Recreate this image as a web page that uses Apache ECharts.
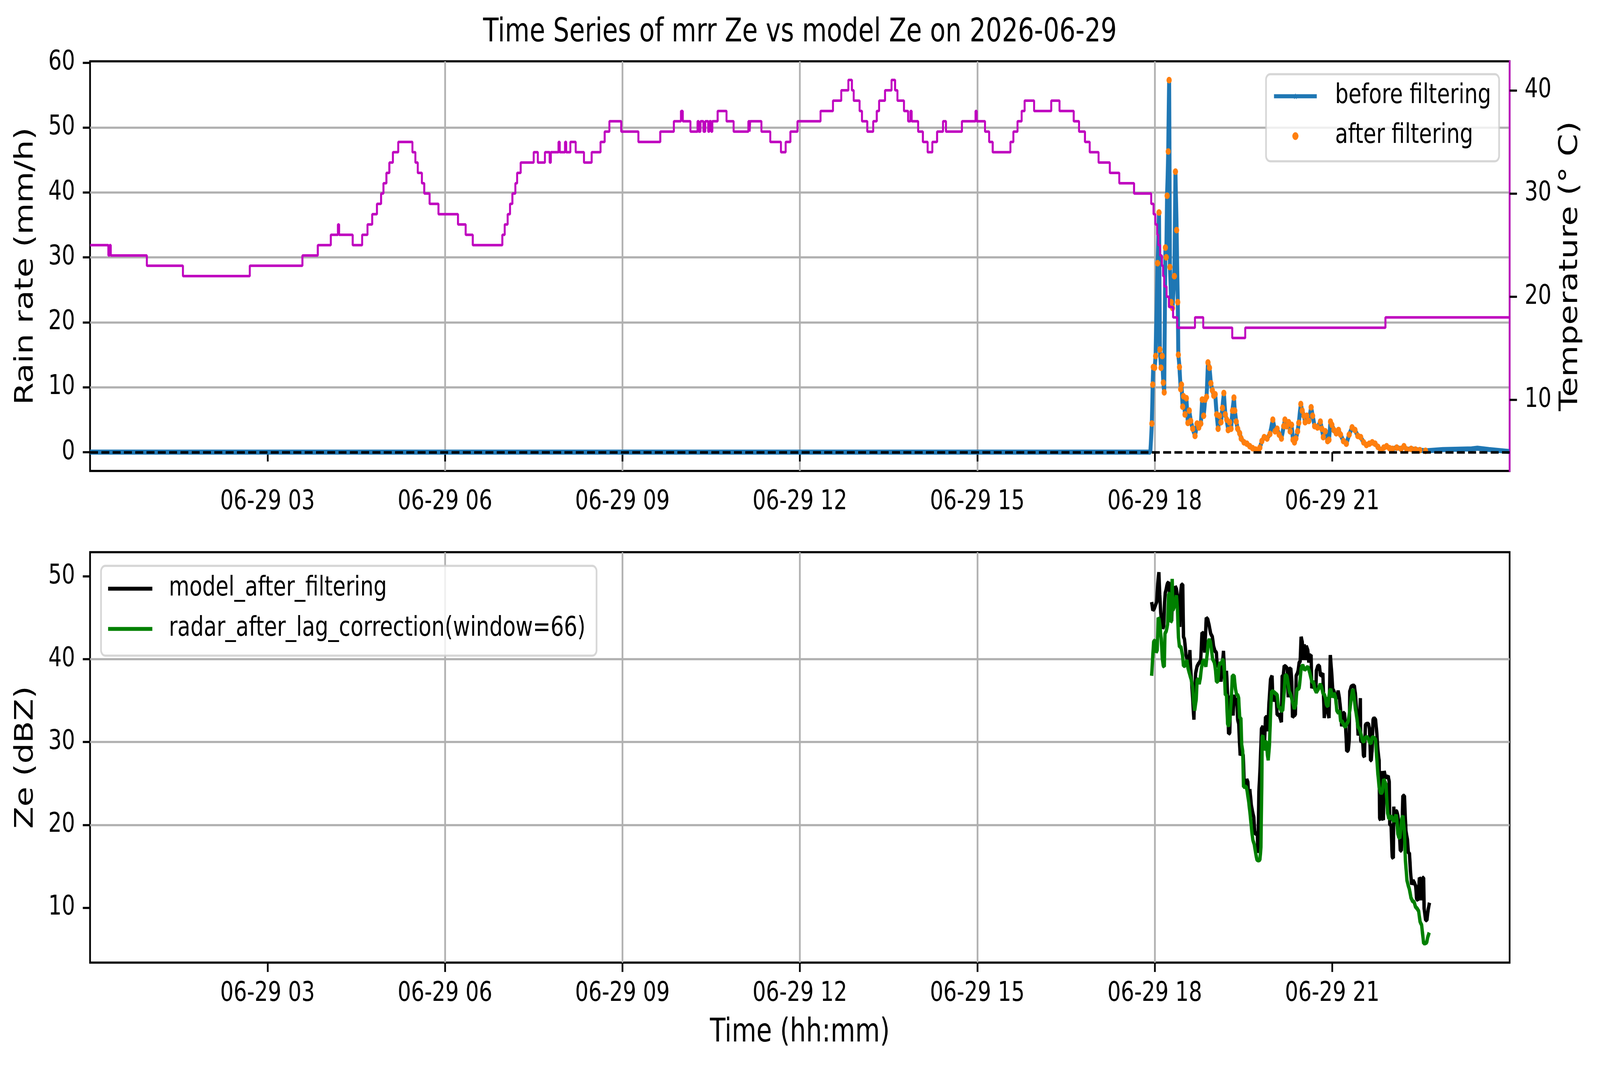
<!DOCTYPE html>
<html><head><meta charset="utf-8">
<script src="https://cdn.jsdelivr.net/npm/echarts@6/dist/echarts.min.js"></script>
<style>html,body{margin:0;padding:0;background:#fff;overflow:hidden}#c{width:5241px;height:2740px;transform-origin:0 0}</style>
</head><body><div id="c"></div>
<script>
// ---------- tick labels ----------
const hourTicks = [3, 6, 9, 12, 15, 18, 21];
const rainTicks = [0, 10, 20, 30, 40, 50, 60];
const tempTicks = [10, 20, 30, 40];
const zeTicks = [10, 20, 30, 40, 50];

// ---------- temperature (hour of day, °C), value held until next change ----------
const tempTime = [0,0.31,0.33,0.35,0.96,1.57,2.70,3.59,3.85,4.07,4.19,4.21,4.44,4.60,4.69,4.77,4.85,4.92,4.96,5.01,5.06,5.12,5.21,5.45,5.50,5.54,5.61,5.65,5.74,5.89,6.22,6.35,6.47,6.97,7.01,7.06,7.10,7.14,7.19,7.22,7.28,7.50,7.57,7.69,7.77,7.79,7.92,7.94,8.03,8.05,8.12,8.21,8.35,8.48,8.63,8.70,8.78,8.98,9.27,9.64,9.87,9.99,10.02,10.15,10.27,10.29,10.32,10.37,10.40,10.45,10.47,10.50,10.52,10.61,10.76,10.88,11.13,11.15,11.16,11.35,11.50,11.68,11.76,11.84,11.96,12.35,12.56,12.70,12.82,12.88,12.91,13.01,13.05,13.14,13.24,13.30,13.34,13.44,13.55,13.61,13.65,13.76,13.83,13.87,13.89,14.00,14.08,14.16,14.24,14.32,14.42,14.47,14.74,14.97,14.99,15.13,15.20,15.26,15.56,15.61,15.68,15.75,15.80,15.96,16.25,16.39,16.63,16.72,16.82,16.90,17.05,17.24,17.40,17.65,17.94,17.98,18.01,18.04,18.06,18.09,18.12,18.14,18.16,18.20,18.24,18.31,18.38,18.68,18.82,19.31,19.53,21.90,24];
const tempVal = [25,24,25,24,23,22,23,24,25,26,27,26,25,26,27,28,29,30,31,32,33,34,35,34,33,32,31,30,29,28,27,26,25,26,27,28,29,30,31,32,33,34,33,34,33,34,35,34,35,34,35,34,33,34,35,36,37,36,35,36,37,38,37,36,37,36,37,36,37,36,37,36,37,38,37,36,37,36,37,36,35,34,35,36,37,38,39,40,41,40,39,38,37,36,37,38,39,40,41,40,39,38,37,38,37,36,35,34,35,36,37,36,37,38,37,36,35,34,35,36,37,38,39,38,39,38,37,36,35,34,33,32,31,30,29,28,27,26,25,24,23,22,21,20,19,18,17,18,17,16,17,18,18];

// ---------- rain rate (mm/h) ----------
const dryTime = [0, 17.926];
const dryVal = [0, 0];
const rainTime = [17.951,17.965,17.975,17.999,18.014,18.048,18.072,18.087,18.106,18.126,18.145,18.160,18.180,18.194,18.209,18.228,18.243,18.257,18.277,18.301,18.331,18.350,18.370,18.389,18.399,18.418,18.438,18.452,18.472,18.486,18.511,18.535,18.560,18.584,18.608,18.642,18.681,18.715,18.745,18.779,18.803,18.827,18.852,18.876,18.900,18.925,18.949,18.974,18.998,19.022,19.047,19.071,19.095,19.120,19.144,19.168,19.193,19.217,19.241,19.266,19.290,19.314,19.339,19.353,19.378,19.402,19.436,19.461,19.509,19.558,19.607,19.655,19.704,19.753,19.777,19.811,19.850,19.899,19.948,19.996,20.035,20.069,20.103,20.142,20.181,20.201,20.230,20.264,20.289,20.313,20.337,20.362,20.386,20.415,20.435,20.469,20.493,20.522,20.542,20.571,20.605,20.644,20.669,20.703,20.751,20.800,20.825,20.849,20.883,20.922,20.946,20.971,20.995,21.029,21.068,21.107,21.141,21.190,21.239,21.287,21.336,21.385,21.433,21.482,21.531,21.579,21.628,21.677,21.725,21.774,21.823,21.872,21.920,21.969,22.018,22.091,22.164,22.213,22.261,22.335,22.408,22.481,22.578];
const rainVal = [4.4,10.4,13.1,13.0,14.8,29.1,36.9,15.8,13.0,14.8,10.7,9.2,31.5,30.0,39.5,46.3,57.3,28.5,23.1,22.2,27.1,43.2,34.2,23.1,15.0,13.1,9.7,10.4,7.0,8.6,5.8,8.3,4.5,6.4,4.8,3.6,2.5,4.4,3.8,4.4,8.1,5.6,8.1,8.5,13.8,13.0,10.6,9.5,8.7,8.9,5.8,3.6,5.6,4.6,6.8,9.1,5.8,5.0,3.4,4.6,3.6,6.4,8.4,6.4,4.7,3.6,2.9,2.1,1.5,1.3,0.9,0.6,0.4,0.3,0.7,1.7,2.3,2.1,2.8,5.0,3.2,3.6,2.7,2.1,4.0,5.0,4.0,4.6,3.2,4.2,1.9,1.5,2.1,3.2,4.5,7.4,6.4,5.6,4.6,5.6,4.8,6.9,5.6,4.0,3.8,4.7,3.6,2.3,3.2,1.7,1.9,4.7,4.2,3.4,2.9,3.4,2.7,1.7,1.3,2.7,3.8,3.4,2.5,2.3,1.5,1.1,1.3,1.5,1.3,0.8,0.3,0.7,0.9,0.6,0.5,0.7,0.5,0.9,0.4,0.5,0.4,0.3,0.2];
const tailTime = [22.870, 23.357, 23.455, 23.650, 23.991];
const tailVal = [0.4, 0.5, 0.6, 0.4, 0.1];
const zeroRef = 0;

// ---------- Ze (dBZ) ----------
const modelTime = [17.947,17.968,17.990,18.016,18.033,18.050,18.070,18.084,18.101,18.118,18.135,18.152,18.166,18.178,18.195,18.212,18.235,18.252,18.269,18.286,18.298,18.315,18.332,18.346,18.366,18.392,18.409,18.423,18.435,18.452,18.474,18.486,18.503,18.529,18.546,18.572,18.594,18.606,18.623,18.640,18.662,18.674,18.691,18.714,18.734,18.755,18.777,18.799,18.823,18.845,18.871,18.897,18.922,18.945,18.974,18.994,19.017,19.042,19.056,19.076,19.094,19.119,19.136,19.162,19.179,19.196,19.213,19.231,19.248,19.268,19.282,19.304,19.325,19.342,19.359,19.385,19.402,19.419,19.444,19.470,19.496,19.513,19.530,19.556,19.573,19.590,19.607,19.633,19.650,19.675,19.693,19.718,19.735,19.744,19.761,19.782,19.804,19.829,19.855,19.872,19.894,19.911,19.932,19.958,19.983,20.000,20.026,20.052,20.069,20.103,20.120,20.141,20.154,20.172,20.189,20.214,20.240,20.257,20.278,20.300,20.317,20.329,20.351,20.377,20.391,20.411,20.424,20.441,20.458,20.475,20.493,20.510,20.527,20.544,20.561,20.587,20.604,20.621,20.643,20.655,20.677,20.701,20.724,20.732,20.758,20.783,20.804,20.826,20.843,20.852,20.866,20.883,20.900,20.920,20.946,20.958,20.968,20.989,21.009,21.032,21.057,21.083,21.100,21.122,21.143,21.160,21.186,21.206,21.225,21.245,21.271,21.288,21.297,21.322,21.348,21.374,21.391,21.417,21.439,21.459,21.476,21.482,21.494,21.511,21.528,21.545,21.562,21.588,21.613,21.631,21.648,21.660,21.673,21.690,21.707,21.733,21.755,21.773,21.793,21.802,21.819,21.836,21.853,21.865,21.879,21.896,21.921,21.947,21.964,21.973,21.995,22.015,22.033,22.041,22.058,22.075,22.092,22.110,22.127,22.152,22.169,22.195,22.221,22.246,22.272,22.289,22.306,22.323,22.344,22.366,22.389,22.412,22.426,22.452,22.474,22.495,22.508,22.529,22.546,22.554,22.580,22.601,22.623,22.645];
const modelZe = [46.9,45.9,46.1,46.6,46.9,49.1,50.5,47.8,45.6,44.5,43.7,44.0,46.9,48.0,48.5,49.1,49.3,47.8,45.0,44.6,47.2,46.2,46.4,48.8,48.5,46.9,45.6,43.9,47.8,49.0,49.0,42.7,42.4,40.5,40.0,39.1,41.1,38.9,37.3,35.3,32.7,35.7,38.3,39.1,39.4,39.6,39.9,43.2,43.1,40.8,45.0,44.8,44.0,43.1,42.7,41.6,41.0,40.8,39.2,39.2,38.9,37.3,38.6,41.0,38.6,36.1,38.6,35.7,31.0,31.1,35.4,35.7,33.2,35.7,34.8,35.3,32.7,32.2,28.4,28.9,28.4,24.9,24.6,25.5,25.2,23.0,24.3,22.4,21.7,20.9,18.9,19.0,18.9,16.6,24.0,27.1,31.6,31.9,29.7,33.0,33.0,31.3,34.8,37.6,38.0,34.9,35.7,35.6,33.3,33.3,32.9,32.4,38.0,38.0,39.2,39.1,38.9,35.4,38.8,38.9,37.3,33.0,33.2,33.3,38.0,38.3,38.6,39.6,39.7,42.7,42.1,39.9,41.8,39.9,41.6,41.1,39.6,40.4,40.5,36.5,37.0,37.3,36.1,38.6,39.2,39.2,38.0,38.1,38.3,35.9,32.9,34.3,35.4,33.8,32.9,37.3,40.5,38.6,36.4,36.1,35.3,35.4,36.2,35.3,33.8,31.9,33.5,33.5,32.2,28.9,29.0,30.2,36.1,36.7,36.8,36.8,35.9,33.5,30.8,31.6,35.3,30.2,30.0,30.6,28.4,28.2,32.1,32.2,32.2,31.6,27.8,27.8,28.9,32.7,32.9,32.7,31.0,29.0,27.8,20.8,20.6,26.5,20.8,20.6,26.5,25.9,25.7,25.9,25.2,20.0,20.0,16.1,16.0,22.2,20.1,21.7,21.6,21.1,20.1,16.9,16.9,23.5,23.5,19.3,18.2,16.6,16.6,14.4,12.8,13.3,13.0,12.6,11.1,10.9,13.6,13.4,10.9,13.6,13.6,9.9,8.5,8.5,9.8,10.6];
const radarTime = [17.947,17.968,17.981,18.007,18.024,18.041,18.050,18.058,18.075,18.093,18.110,18.127,18.144,18.161,18.173,18.195,18.217,18.235,18.255,18.269,18.281,18.295,18.306,18.324,18.346,18.366,18.383,18.401,18.418,18.443,18.469,18.486,18.512,18.543,18.563,18.594,18.614,18.640,18.657,18.674,18.700,18.717,18.734,18.751,18.768,18.789,18.811,18.837,18.863,18.885,18.905,18.922,18.940,18.957,18.979,19.008,19.029,19.042,19.068,19.085,19.102,19.128,19.145,19.159,19.176,19.193,19.213,19.231,19.251,19.273,19.295,19.312,19.342,19.364,19.385,19.402,19.419,19.436,19.456,19.470,19.487,19.501,19.521,19.547,19.564,19.590,19.615,19.641,19.658,19.684,19.706,19.727,19.753,19.778,19.795,19.809,19.816,19.829,19.846,19.872,19.889,19.906,19.918,19.940,19.958,19.975,20.000,20.035,20.069,20.090,20.117,20.137,20.163,20.189,20.206,20.232,20.244,20.274,20.300,20.326,20.360,20.386,20.403,20.424,20.441,20.458,20.475,20.501,20.535,20.561,20.587,20.612,20.633,20.655,20.684,20.706,20.732,20.766,20.797,20.818,20.843,20.869,20.886,20.903,20.929,20.955,20.975,21.006,21.032,21.057,21.078,21.105,21.126,21.143,21.168,21.194,21.220,21.245,21.271,21.297,21.322,21.348,21.365,21.391,21.417,21.437,21.459,21.485,21.511,21.536,21.554,21.579,21.605,21.631,21.656,21.677,21.707,21.733,21.750,21.772,21.793,21.810,21.827,21.848,21.870,21.892,21.909,21.921,21.938,21.956,21.981,21.998,22.015,22.041,22.058,22.080,22.092,22.110,22.127,22.144,22.161,22.178,22.195,22.221,22.238,22.264,22.281,22.306,22.332,22.358,22.384,22.409,22.435,22.461,22.486,22.512,22.529,22.546,22.572,22.597,22.614,22.640];
const radarZe = [38.0,40.5,42.1,42.3,40.8,41.1,43.1,45.0,44.8,43.7,42.4,40.2,39.2,39.1,43.1,43.4,44.2,47.8,48.0,44.5,44.6,49.7,45.9,46.2,47.0,47.7,46.2,42.6,41.5,41.5,40.5,39.2,39.2,39.9,38.9,38.1,37.6,36.7,34.8,33.8,35.1,37.5,37.6,37.0,37.6,38.9,39.7,39.9,39.1,40.5,42.1,42.4,42.1,41.3,40.0,39.6,38.6,37.3,37.3,39.1,39.6,39.4,39.9,39.9,38.6,35.7,35.7,32.2,31.9,32.9,35.4,38.0,38.0,36.4,35.7,35.7,35.3,32.9,32.9,29.7,28.9,24.6,24.6,24.6,24.0,22.7,21.1,19.2,18.2,17.6,16.6,15.8,15.7,15.8,17.3,24.6,30.6,30.8,29.0,30.0,30.0,28.4,27.8,29.7,33.5,36.1,36.1,35.9,35.7,34.3,34.1,33.8,33.8,36.1,38.1,38.0,37.6,36.1,35.7,34.9,34.0,34.6,36.4,36.4,36.5,37.6,38.9,39.3,38.7,38.9,39.1,38.6,38.0,37.3,37.2,36.4,36.0,36.4,37.0,36.7,35.9,35.7,35.3,34.5,34.3,36.1,36.4,35.4,35.9,35.4,33.8,33.5,33.8,32.5,32.5,32.1,31.8,32.2,32.5,33.8,35.3,36.4,35.7,34.1,32.9,31.8,31.6,31.0,30.2,30.0,30.5,30.6,30.5,30.0,29.8,30.6,30.5,30.3,28.4,26.2,24.6,24.0,23.8,24.0,25.5,25.2,24.9,23.3,21.4,20.8,20.8,21.1,20.8,20.4,20.8,21.2,20.8,18.9,18.5,18.4,19.6,20.8,21.1,19.2,15.7,13.3,12.8,12.2,11.2,10.8,10.7,10.1,9.9,9.6,8.3,7.9,6.8,5.7,5.7,5.8,6.4,7.0];

// ---------- build ----------
const W = 5241, H = 2740;
const FONT = 'DejaVu Sans';
const pair = (t, v) => t.map((x, i) => [x, v[i]]);
const hourLabel = h => '06-29 ' + String(h).padStart(2, '0');
const beforeData = pair(dryTime, dryVal).concat(pair(rainTime, rainVal), pair(tailTime, tailVal));
const STAR = 'path://M50,0L61,35L98,35L68,57L79,91L50,70L21,91L32,57L2,35L39,35Z';
const LINE_ICON = 'path://M0,0H145V10H0Z';
const GRID_C = '#b0b0b0', LW = 5.5;

// the browser window may be narrower than the figure: fit the whole figure into it
const box = document.getElementById('c');
const sx = Math.min(1, window.innerWidth / W), sy = Math.min(1, window.innerHeight / H);
box.style.transform = 'scale(' + sx + ',' + sy + ')';

function xAxis(gridIndex, name) {
  return {
    type: 'value', gridIndex, min: 0, max: 24, interval: 3,
    name: name || '', nameLocation: 'middle', nameGap: 139,
    nameTextStyle: { fontSize: 83, color: '#000', fontFamily: FONT },
    axisLine: { show: false },
    axisTick: { show: true, customValues: hourTicks, length: 24, lineStyle: { color: '#000', width: LW } },
    axisLabel: { customValues: hourTicks, formatter: hourLabel, fontSize: 69, color: '#000', margin: 46, fontFamily: FONT },
    splitLine: { show: true, showMinLine: false, showMaxLine: false, lineStyle: { color: GRID_C, width: LW } }
  };
}
function yAxis(gridIndex, min, max, ticks, name, gap, pos, split, lineColor) {
  return {
    type: 'value', gridIndex, min, max, position: pos,
    name, nameLocation: 'middle', nameGap: gap, nameRotate: 90,
    nameTextStyle: { fontSize: 83, color: '#000', fontFamily: FONT },
    axisLine: lineColor ? { show: true, lineStyle: { color: lineColor, width: LW } } : { show: false },
    axisTick: { show: true, customValues: ticks, length: 24, lineStyle: { color: '#000', width: LW } },
    axisLabel: { customValues: ticks, fontSize: 69, color: '#000', margin: 49, fontFamily: FONT },
    splitLine: { show: split, showMinLine: false, showMaxLine: false, lineStyle: { color: GRID_C, width: LW } }
  };
}
const legendBase = {
  orient: 'vertical', selectedMode: false,
  backgroundColor: 'rgba(255,255,255,0.8)', borderColor: 'rgba(204,204,204,0.8)',
  borderWidth: LW, borderRadius: 14,
  itemHeight: 20, itemGap: 33,
  textStyle: { fontSize: 69, color: '#000', fontFamily: FONT }
};

const chart = echarts.init(box, null, { renderer: 'canvas', width: W, height: H });
chart.setOption({
  animation: false,
  backgroundColor: '#fff',
  textStyle: { fontFamily: FONT },
  title: {
    text: 'Time Series of mrr Ze vs model Ze on 2026-06-29', left: 'center', top: 43, padding: 0,
    textStyle: { fontSize: 83, fontWeight: 'normal', color: '#000', fontFamily: FONT }
  },
  grid: [
    { left: 295, top: 157, width: 4650, height: 1049, show: true, borderColor: '#000', borderWidth: LW, backgroundColor: 'transparent', containLabel: false, outerBoundsMode: 'none' },
    { left: 295, top: 1414, width: 4650, height: 1051, show: true, borderColor: '#000', borderWidth: LW, backgroundColor: 'transparent', containLabel: false, outerBoundsMode: 'none' }
  ],
  xAxis: [xAxis(0, ''), xAxis(1, 'Time (hh:mm)')],
  yAxis: [
    yAxis(0, -2.9, 60.2, rainTicks, 'Rain rate (mm/h)', 168, 'left', true, null),
    yAxis(0, 3.12, 42.81, tempTicks, 'Temperature (° C)', 158, 'right', false, '#bf00bf'),
    yAxis(1, 3.37, 52.92, zeTicks, 'Ze (dBZ)', 168, 'left', true, null)
  ],
  legend: [
    Object.assign({}, legendBase, {
      left: 4147, top: 190, itemWidth: 140, padding: [22, 26, 30, 21],
      lineStyle: { width: 10.4 },
      textStyle: Object.assign({}, legendBase.textStyle, { padding: [0, 0, 0, 55] }),
      data: [
        { name: 'before filtering', lineStyle: { width: 10.4, color: '#1f77b4', type: 'solid' } },
        { name: 'after filtering' }
      ]
    }),
    Object.assign({}, legendBase, {
      left: 331, top: 1449, itemWidth: 145, itemGap: 34, padding: [24, 36, 34, 23],
      textStyle: Object.assign({}, legendBase.textStyle, { padding: [0, 0, 0, 49] }),
      data: [{ name: 'model_after_filtering', icon: LINE_ICON }, { name: 'radar_after_lag_correction(window=66)', icon: LINE_ICON }]
    })
  ],
  series: [
    {
      name: 'before filtering', type: 'line', xAxisIndex: 0, yAxisIndex: 0, data: beforeData,
      showSymbol: false, symbol: STAR, symbolSize: 14, z: 2,
      lineStyle: { color: '#1f77b4', width: 13 }, itemStyle: { color: '#1f77b4' }
    },
    {
      name: 'after filtering', type: 'scatter', xAxisIndex: 0, yAxisIndex: 0, data: pair(rainTime, rainVal),
      symbol: 'circle', symbolSize: 17, z: 3, itemStyle: { color: '#ff7f0e', opacity: 1 }
    },
    {
      name: 'zero', type: 'line', xAxisIndex: 0, yAxisIndex: 0, data: [], z: 4,
      markLine: {
        silent: true, symbol: ['none', 'none'], label: { show: false }, animation: false,
        lineStyle: { color: '#000', width: 6.5, type: [26, 11] },
        data: [{ yAxis: zeroRef }]
      }
    },
    {
      name: 'temperature', type: 'line', xAxisIndex: 0, yAxisIndex: 1, data: pair(tempTime, tempVal),
      step: 'end', showSymbol: false, symbol: 'none', z: 5,
      lineStyle: { color: '#bf00bf', width: 6.5 }, itemStyle: { color: '#bf00bf' }
    },
    {
      name: 'model_after_filtering', type: 'line', xAxisIndex: 1, yAxisIndex: 2, data: pair(modelTime, modelZe),
      showSymbol: false, symbol: 'none', z: 2,
      lineStyle: { color: '#000000', width: 11 }, itemStyle: { color: '#000000' }
    },
    {
      name: 'radar_after_lag_correction(window=66)', type: 'line', xAxisIndex: 1, yAxisIndex: 2, data: pair(radarTime, radarZe),
      showSymbol: false, symbol: 'none', z: 3,
      lineStyle: { color: '#008000', width: 11 }, itemStyle: { color: '#008000' }
    }
  ]
});
</script>
</body></html>
